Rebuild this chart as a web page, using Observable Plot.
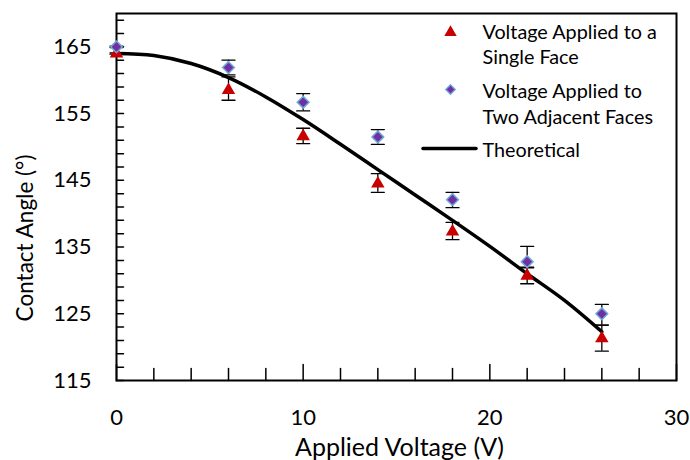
<!DOCTYPE html>
<html>
<head>
<meta charset="utf-8">
<script src="https://cdn.jsdelivr.net/npm/d3@7"></script>
<script src="https://cdn.jsdelivr.net/npm/@observablehq/plot@0.6"></script>
<style>
  html, body { margin: 0; padding: 0; background: #fff; }
  #chart svg { display: block; }
</style>
</head>
<body>
<div id="chart"></div>
<script>
// ---- data ----
const voltage = [0, 6, 10, 14, 18, 22, 26];
const singleMean  = [164.0, 158.5, 151.6, 144.5, 137.3, 130.7, 121.3];
const singleLower = [163.9, 157.0, 150.5, 143.2, 136.1, 129.5, 119.4];
const singleUpper = [164.1, 160.5, 152.8, 146.0, 138.7, 131.9, 123.3];
const twoMean  = [165.0, 161.9, 156.7, 151.5, 142.1, 132.8, 125.0];
const twoLower = [164.9, 160.8, 155.4, 150.4, 140.9, 132.0, 123.3];
const twoUpper = [165.1, 163.0, 158.0, 152.6, 143.2, 135.1, 126.4];
const theoryVoltage = [0, 2, 4, 6, 8, 10, 12, 14, 16, 18, 20, 22, 24, 26];
const theoryAngle   = [164.0, 163.7, 162.5, 160.4, 157.5, 154.1, 150.4, 146.6, 142.8, 139.0, 135.1, 131.0, 127.0, 122.3];
const xTickLabels = [0, 10, 20, 30];
const yTickLabels = [115, 125, 135, 145, 155, 165];
const xMinorTicks = d3.range(0, 31, 2);
const yMinorTicks = d3.range(115, 170, 2);
const legendLabels = ["Voltage Applied to a\nSingle Face", "Voltage Applied to\nTwo Adjacent Faces", "Theoretical"];
const xTitle = "Applied Voltage (V)";
const yTitle = "Contact Angle (°)";

const single = voltage.map((v, i) => ({v, m: singleMean[i], lo: singleLower[i], hi: singleUpper[i]}));
const two = voltage.map((v, i) => ({v, m: twoMean[i], lo: twoLower[i], hi: twoUpper[i]}));
const theory = theoryVoltage.map((v, i) => ({v, a: theoryAngle[i]}));

const RED = "#C80000", PURPLE = "#7030A0", BLUE = "#6FA8DC";
const FONT = "Lato, 'Open Sans', sans-serif";

// plain straight-line shape for vector marks (ticks, caps, legend line)
const stick = {draw(context, l) { context.moveTo(0, 0); context.lineTo(0, -l); }};

function errorBars(data) {
  return [
    Plot.ruleX(data, {x: "v", y1: "lo", y2: "hi", stroke: "black", strokeWidth: 1.3}),
    Plot.vector(data, {x: "v", y: "lo", rotate: 90, length: 13, anchor: "middle", shape: stick, stroke: "black", strokeWidth: 1.3}),
    Plot.vector(data, {x: "v", y: "hi", rotate: 90, length: 13, anchor: "middle", shape: stick, stroke: "black", strokeWidth: 1.3})
  ];
}

function legendText(label, dy) {
  return Plot.text([label], {
    frameAnchor: "top-left", dx: 366, dy,
    text: d => d, textAnchor: "start", lineAnchor: "middle",
    lineHeight: 1.3, fontSize: 19.8, fill: "black"
  });
}

const chart = Plot.plot({
  width: 690,
  height: 460,
  marginLeft: 116,
  marginRight: 14,
  marginTop: 13,
  marginBottom: 80,
  style: {fontFamily: FONT, color: "black", background: "white"},
  x: {domain: [0, 30], axis: null},
  y: {domain: [115, 170], axis: null},
  marks: [
    Plot.frame({stroke: "black", strokeWidth: 2}),
    // inward ticks
    Plot.vector(yMinorTicks, {y: d => d, frameAnchor: "left", rotate: 90, length: 7, anchor: "start", shape: stick, stroke: "black", strokeWidth: 1.5}),
    Plot.vector(xMinorTicks, {x: d => d, frameAnchor: "bottom", rotate: 0, length: d => (d % 10 === 0 ? 8 : 6), anchor: "start", shape: stick, stroke: "black", strokeWidth: 1.5}),
    // tick labels
    Plot.axisY({ticks: yTickLabels, tickSize: 0, tickPadding: 25, fontSize: 22, tickFormat: d => String(d), label: null}),
    Plot.axisX({ticks: xTickLabels, tickSize: 0, tickPadding: 29, fontSize: 22, tickFormat: d => String(d), label: null}),
    // axis titles
    Plot.text([yTitle], {frameAnchor: "left", dx: -91, dy: 41, rotate: -90, textAnchor: "middle", lineAnchor: "middle", fontSize: 22.5, fill: "black"}),
    Plot.text([xTitle], {frameAnchor: "bottom", dx: 3, dy: 67, textAnchor: "middle", lineAnchor: "middle", fontSize: 25, fill: "black"}),
    // theoretical curve
    Plot.line(theory, {x: "v", y: "a", stroke: "black", strokeWidth: 3.5, curve: "catmull-rom"}),
    // error bars
    ...errorBars(single),
    ...errorBars(two),
    // markers
    Plot.dot(single, {x: "v", y: "m", symbol: "triangle", r: 5, fill: RED, stroke: "none"}),
    Plot.dot(two, {x: "v", y: "m", symbol: "diamond2", r: 5.3, fill: PURPLE, stroke: BLUE, strokeWidth: 1.5}),
    // legend
    Plot.dot([legendLabels[0]], {frameAnchor: "top-left", dx: 334, dy: 19, symbol: "triangle", r: 4.6, fill: RED, stroke: "none"}),
    Plot.dot([legendLabels[1]], {frameAnchor: "top-left", dx: 334, dy: 76, symbol: "diamond2", r: 4.3, fill: PURPLE, stroke: BLUE, strokeWidth: 1.3}),
    Plot.vector([legendLabels[2]], {frameAnchor: "top-left", dx: 333, dy: 135, rotate: 90, length: 53, anchor: "middle", shape: stick, stroke: "black", strokeWidth: 3.5}),
    legendText(legendLabels[0], 29.75),
    legendText(legendLabels[1], 89.3),
    legendText(legendLabels[2], 135)
  ]
});
document.getElementById("chart").appendChild(chart);
</script>
</body>
</html>
